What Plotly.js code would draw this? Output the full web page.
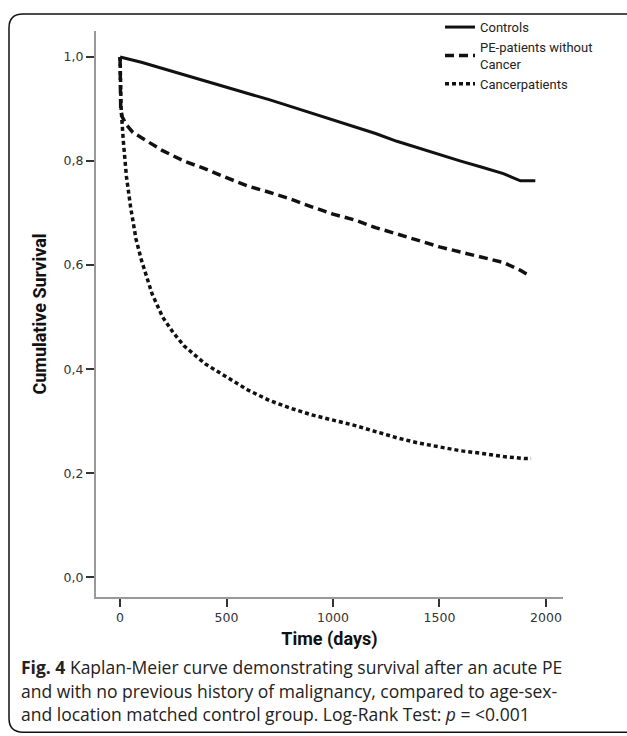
<!DOCTYPE html>
<html>
<head>
<meta charset="utf-8">
<script src="https://cdn.plot.ly/plotly-3.0.1.min.js"></script>
<style>
html,body{margin:0;padding:0;background:#fff;}
#chart{width:627px;height:736px;}
</style>
</head>
<body>
<div id="chart"></div>
<script>
// ---- data ----
const controlsDays = [0, 100, 200, 300, 400, 500, 600, 700, 800, 900, 1000, 1100, 1200, 1300, 1400, 1500, 1600, 1700, 1800, 1880, 1950];
const controlsSurv = [1.0, 0.99, 0.978, 0.966, 0.955, 0.943, 0.931, 0.918, 0.905, 0.892, 0.878, 0.866, 0.853, 0.838, 0.825, 0.812, 0.800, 0.788, 0.776, 0.762, 0.762];

const peDays = [0, 3, 10, 30, 60, 100, 150, 200, 300, 400, 500, 600, 700, 800, 900, 1000, 1100, 1200, 1300, 1400, 1500, 1600, 1700, 1800, 1880, 1920];
const peSurv = [1.0, 0.90, 0.885, 0.87, 0.855, 0.845, 0.832, 0.82, 0.80, 0.785, 0.768, 0.752, 0.74, 0.727, 0.712, 0.698, 0.687, 0.672, 0.66, 0.648, 0.635, 0.625, 0.615, 0.605, 0.59, 0.58];

const cancerDays = [0, 5, 15, 30, 50, 75, 100, 150, 200, 250, 300, 400, 500, 600, 700, 800, 900, 1000, 1100, 1200, 1300, 1400, 1500, 1600, 1700, 1800, 1900, 1930];
const cancerSurv = [1.0, 0.90, 0.84, 0.77, 0.71, 0.65, 0.61, 0.545, 0.50, 0.47, 0.445, 0.41, 0.385, 0.36, 0.34, 0.325, 0.312, 0.302, 0.292, 0.28, 0.268, 0.258, 0.25, 0.243, 0.238, 0.232, 0.228, 0.228];

const seriesNames = ['Controls', 'PE-patients without<br>Cancer', 'Cancerpatients'];
const xTickVals = [0, 500, 1000, 1500, 2000];
const yTickVals = [0, 0.2, 0.4, 0.6, 0.8, 1.0];
const yTickText = ['0,0', '0,2', '0,4', '0,6', '0,8', '1,0'];
const xTitle = 'Time (days)';
const yTitle = 'Cumulative Survival';
const captionLines = [
  '<b>Fig. 4</b> Kaplan-Meier curve demonstrating survival after an acute PE',
  'and with no previous history of malignancy, compared to age-sex-',
  'and location matched control group. Log-Rank Test: <i>p</i> = &lt;0.001'
];

// ---- layout geometry (pixels) ----
const W = 627, H = 736;
const L = 96, R = 563, T = 28, B = 597;
const pw = R - L, ph = B - T;
const px = x => (x - L) / pw;
const py = y => (B - y) / ph;

const titleFont = 'Liberation Sans Narrow, Roboto, Arial Narrow, sans-serif';
const tickFont = {family: 'DejaVu Sans, Verdana, sans-serif', size: 12.5, color: '#333'};

const traces = [
  {x: controlsDays, y: controlsSurv, name: seriesNames[0], mode: 'lines',
   line: {color: '#111', width: 3, shape: 'linear'}},
  {x: peDays, y: peSurv, name: seriesNames[1], mode: 'lines',
   line: {color: '#111', width: 3.5, dash: '9px,5px', shape: 'linear'}},
  {x: cancerDays, y: cancerSurv, name: seriesNames[2], mode: 'lines',
   line: {color: '#111', width: 3.5, dash: '4px,3px', shape: 'linear'}}
];

// frame path (rounded rectangle, right side beyond page)
const r = 14, fx0 = 9, fy0 = 11, fx1 = 640, fy1 = 733;
const P = (x, y) => px(x) + ',' + py(y);
const framePath = 'M' + P(fx1, fy0) + ' L' + P(fx0 + r, fy0) +
  ' Q' + P(fx0, fy0) + ' ' + P(fx0, fy0 + r) +
  ' L' + P(fx0, fy1 - r) + ' Q' + P(fx0, fy1) + ' ' + P(fx0 + r, fy1) +
  ' L' + P(fx1, fy1);

const annotations = captionLines.map((t, i) => ({
  xref: 'paper', yref: 'paper', x: px(19), y: py(667 + i * 24),
  xanchor: 'left', yanchor: 'middle', showarrow: false, text: t,
  font: {family: 'Open Sans, Noto Sans, sans-serif', size: 17.5, color: '#222'}
}));

const layout = {
  width: W, height: H,
  margin: {l: L, r: W - R, t: T, b: H - B, pad: 0},
  paper_bgcolor: '#fff', plot_bgcolor: '#fff',
  showlegend: true,
  legend: {x: px(440), y: py(9), xanchor: 'left', yanchor: 'top',
    bgcolor: 'rgba(0,0,0,0)', tracegroupgap: 0, itemwidth: 30,
    font: {family: titleFont, size: 13, color: '#222'}},
  xaxis: {
    range: [-113, 2080], tickvals: xTickVals, ticktext: xTickVals.map(String),
    showgrid: false, zeroline: false, showline: true, linecolor: '#999', linewidth: 2,
    ticks: 'outside', ticklen: 8, tickwidth: 2, tickcolor: '#333', tickfont: tickFont,
    title: {text: '<b>' + xTitle + '</b>', font: {family: titleFont, size: 18, color: '#111'}, standoff: 8}
  },
  yaxis: {
    range: [-0.038, 1.05], tickvals: yTickVals, ticktext: yTickText,
    showgrid: false, zeroline: false, showline: true, linecolor: '#999', linewidth: 2,
    ticks: 'outside', ticklen: 8, tickwidth: 2, tickcolor: '#333', tickfont: tickFont,
    title: {text: '<b>' + yTitle + '</b>', font: {family: titleFont, size: 18, color: '#111'}, standoff: 12}
  },
  shapes: [{type: 'path', xref: 'paper', yref: 'paper', path: framePath,
    line: {color: '#111', width: 1.5}, fillcolor: 'rgba(0,0,0,0)'}],
  annotations: annotations
};

Plotly.newPlot('chart', traces, layout, {displayModeBar: false, staticPlot: true});
</script>
</body>
</html>
